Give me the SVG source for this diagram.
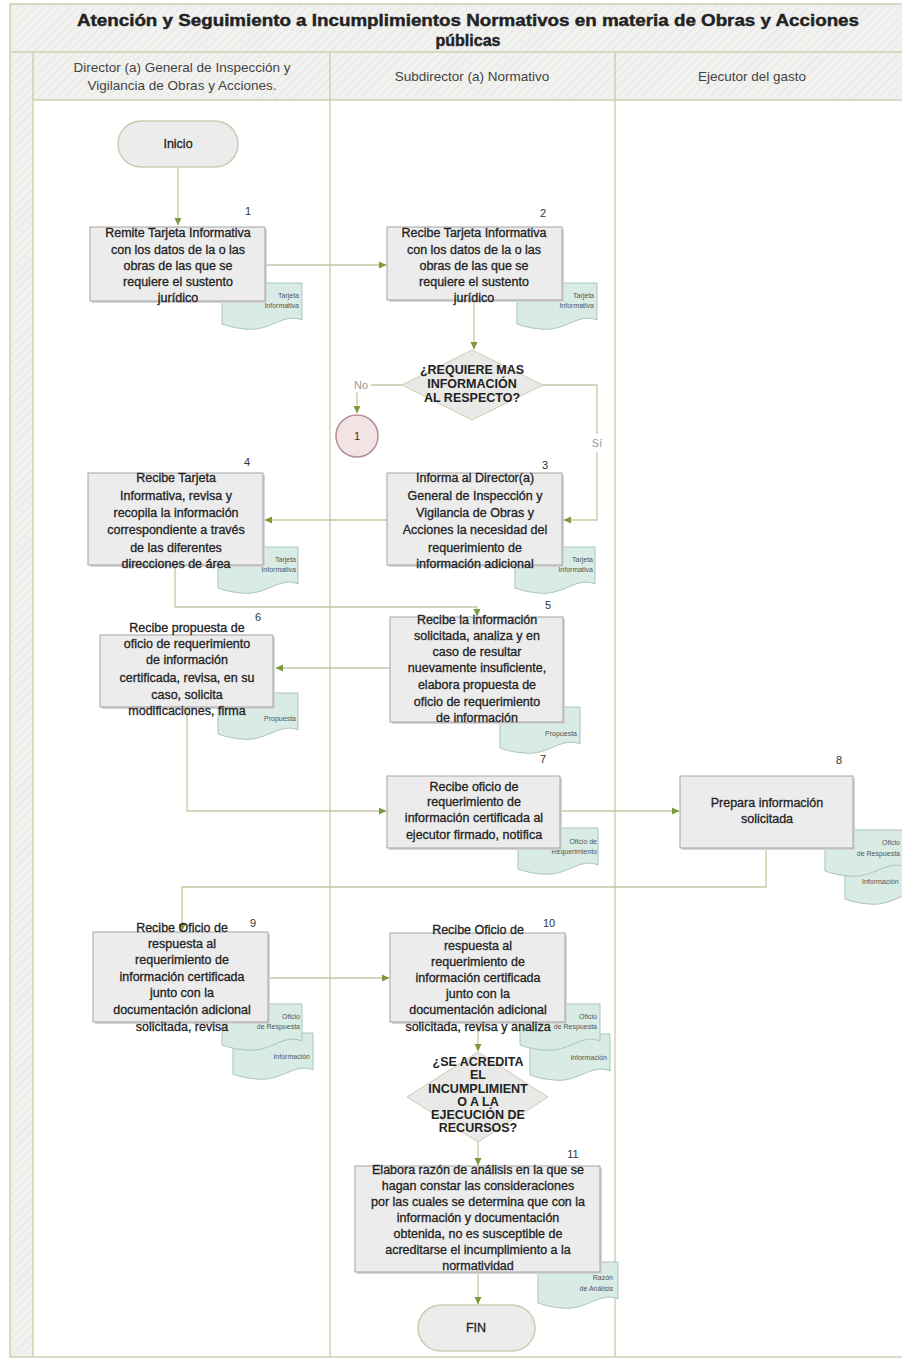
<svg xmlns="http://www.w3.org/2000/svg" width="902" height="1360" viewBox="0 0 902 1360">
<defs>
<pattern id="hatch" width="6" height="6" patternUnits="userSpaceOnUse" patternTransform="rotate(45)">
<rect width="6" height="6" fill="#f1f1ef"/>
<line x1="0" y1="0" x2="0" y2="6" stroke="#e6e6e2" stroke-width="2"/>
</pattern>
<marker id="arr" markerWidth="8" markerHeight="8" refX="7" refY="4" orient="auto" markerUnits="userSpaceOnUse">
<path d="M0,0.5 L7.5,4 L0,7.5 Z" fill="#7d9a3c"/>
</marker>
<path id="doc" d="M0,0 H80 V37 C62,29 48,49 24,46 C12,45 6,43 0,41 Z"/>
</defs>
<style>
.lane{fill:none;stroke:#d3cfb3;stroke-width:1.5}
.box{fill:#ececec;stroke:#a3a3a3;stroke-width:1}
.shadow{fill:#d6d6d6}
.doc{fill:#d9ebe5;stroke:#a9c4bc;stroke-width:1}
.term{fill:#ececec;stroke:#cdcab2;stroke-width:1.5}
.dia{fill:#e9e9e7;stroke:#cfcbb3;stroke-width:1}
.con{fill:none;stroke:#c9c6a4;stroke-width:1.3}
.t{font-family:"Liberation Sans",Arial,sans-serif;font-size:12.5px;fill:#222;stroke:#222;stroke-width:0.3;text-anchor:middle}
.tb{font-family:"Liberation Sans",Arial,sans-serif;font-size:12.5px;font-weight:bold;fill:#222;text-anchor:middle}
.num{font-family:"Liberation Sans",Arial,sans-serif;font-size:11px;fill:#333;text-anchor:middle}
.dl{font-family:"Liberation Sans",Arial,sans-serif;font-size:7px;fill:#555;text-anchor:end}
.hd{font-family:"Liberation Sans",Arial,sans-serif;font-size:13.5px;fill:#444;text-anchor:middle}
.lb{font-family:"Liberation Sans",Arial,sans-serif;font-size:11px;fill:#9a9a9a;text-anchor:middle}
</style>
<rect width="902" height="1360" fill="#ffffff"/>
<g id="pool">
<rect x="10" y="4" width="900" height="48" fill="url(#hatch)"/>
<rect x="33" y="52" width="877" height="48" fill="url(#hatch)"/>
<rect x="10" y="52" width="23" height="1305" fill="url(#hatch)"/>
<rect x="10" y="4" width="900" height="1353" class="lane"/>
<line x1="10" y1="52" x2="902" y2="52" class="lane"/>
<line x1="33" y1="100" x2="902" y2="100" class="lane"/>
<line x1="33" y1="52" x2="33" y2="1357" class="lane"/>
<line x1="330" y1="52" x2="330" y2="1357" class="lane"/>
<line x1="615" y1="52" x2="615" y2="1357" class="lane"/>
<text x="468" y="26" font-family="Liberation Sans, Arial, sans-serif" font-size="16" font-weight="bold" fill="#222" stroke="#222" stroke-width="0.4" text-anchor="middle" textLength="782" lengthAdjust="spacingAndGlyphs">Atención y Seguimiento a Incumplimientos Normativos en materia de Obras y Acciones</text>
<text x="468" y="46" font-family="Liberation Sans, Arial, sans-serif" font-size="16" font-weight="bold" fill="#222" stroke="#222" stroke-width="0.4" text-anchor="middle">públicas</text>
<text x="182" y="72" class="hd">Director (a) General de Inspección y</text>
<text x="182" y="90" class="hd">Vigilancia de Obras y Acciones.</text>
<text x="472" y="81" class="hd">Subdirector (a) Normativo</text>
<text x="752" y="81" class="hd">Ejecutor del gasto</text>
</g>
<g id="connectors">
<path class="con" d="M178,168 V225" marker-end="url(#arr)"/>
<path class="con" d="M266,265 H386" marker-end="url(#arr)"/>
<path class="con" d="M474,300 V349" marker-end="url(#arr)"/>
<path class="con" d="M402,385 H371 M357,392 V413" marker-end="url(#arr)"/>
<path class="con" d="M543,385 H597 V434 M597,452 V520 H564" marker-end="url(#arr)"/>
<path class="con" d="M387,520 H265" marker-end="url(#arr)"/>
<path class="con" d="M175,565 V607 H477 V616" marker-end="url(#arr)"/>
<path class="con" d="M390,668 H276" marker-end="url(#arr)"/>
<path class="con" d="M187,707 V811 H386" marker-end="url(#arr)"/>
<path class="con" d="M560,811 H679" marker-end="url(#arr)"/>
<path class="con" d="M766,848 V887 H182 V931" marker-end="url(#arr)"/>
<path class="con" d="M270,978 H389" marker-end="url(#arr)"/>
<path class="con" d="M478,1023 V1051" marker-end="url(#arr)"/>
<path class="con" d="M478,1142 V1165" marker-end="url(#arr)"/>
<path class="con" d="M478,1272 V1304" marker-end="url(#arr)"/>
<text x="361" y="389" class="lb">No</text>
<text x="597" y="447" class="lb">Sí</text>
</g>
<g id="inicio">
<rect x="118" y="121" width="120" height="46" rx="23" class="term"/>
<text x="178" y="148" class="t" font-size="12">Inicio</text>
</g>
<g id="n1">
<use href="#doc" x="222" y="283" class="doc"/>
<text x="299" y="298" class="dl">Tarjeta</text>
<text x="299" y="308" class="dl">Informativa</text>
<rect x="92" y="229" width="175" height="74" class="shadow"/>
<rect x="90" y="227" width="175" height="74" class="box"/>
<text x="248" y="215" class="num">1</text>
<text class="t"><tspan x="178" y="237">Remite Tarjeta Informativa</tspan><tspan x="178" y="254">con los datos de la o las</tspan><tspan x="178" y="270">obras de las que se</tspan><tspan x="178" y="286">requiere el sustento</tspan><tspan x="178" y="302">jurídico</tspan></text>
</g>
<g id="n2">
<use href="#doc" x="517" y="283" class="doc"/>
<text x="594" y="298" class="dl">Tarjeta</text>
<text x="594" y="308" class="dl">Informativa</text>
<rect x="389" y="229" width="175" height="73" class="shadow"/>
<rect x="387" y="227" width="175" height="73" class="box"/>
<text x="543" y="217" class="num">2</text>
<text class="t"><tspan x="474" y="237">Recibe Tarjeta Informativa</tspan><tspan x="474" y="254">con los datos de la o las</tspan><tspan x="474" y="270">obras de las que se</tspan><tspan x="474" y="286">requiere el sustento</tspan><tspan x="474" y="302">jurídico</tspan></text>
</g>
<g id="d1">
<polygon points="472,350 543,385 472,420 402,385" class="dia"/>
<text class="tb"><tspan x="472" y="374">¿REQUIERE MAS</tspan><tspan x="472" y="388">INFORMACIÓN</tspan><tspan x="472" y="402">AL RESPECTO?</tspan></text>
</g>
<g id="c1">
<circle cx="357" cy="436" r="21" fill="#f3e3e5" stroke="#b88d97" stroke-width="1.5"/>
<text x="357" y="440" class="num" font-size="12">1</text>
</g>
<g id="n3">
<use href="#doc" x="515" y="547" class="doc"/>
<text x="593" y="562" class="dl">Tarjeta</text>
<text x="593" y="572" class="dl">Informativa</text>
<rect x="389" y="475" width="175" height="92" class="shadow"/>
<rect x="387" y="473" width="175" height="92" class="box"/>
<text x="545" y="469" class="num">3</text>
<text class="t"><tspan x="475" y="482">Informa al Director(a)</tspan><tspan x="475" y="500">General de Inspección y</tspan><tspan x="475" y="517">Vigilancia de Obras y</tspan><tspan x="475" y="534">Acciones la necesidad del</tspan><tspan x="475" y="552">requerimiento de</tspan><tspan x="475" y="568">información adicional</tspan></text>
</g>
<g id="n4">
<use href="#doc" x="218" y="547" class="doc"/>
<text x="296" y="562" class="dl">Tarjeta</text>
<text x="296" y="572" class="dl">Informativa</text>
<rect x="90" y="475" width="175" height="92" class="shadow"/>
<rect x="88" y="473" width="175" height="92" class="box"/>
<text x="247" y="466" class="num">4</text>
<text class="t"><tspan x="176" y="482">Recibe Tarjeta</tspan><tspan x="176" y="500">Informativa, revisa y</tspan><tspan x="176" y="517">recopila la información</tspan><tspan x="176" y="534">correspondiente a través</tspan><tspan x="176" y="552">de las diferentes</tspan><tspan x="176" y="568">direcciones de área</tspan></text>
</g>
<g id="n5">
<use href="#doc" x="500" y="707" class="doc"/>
<text x="577" y="736" class="dl">Propuesta</text>
<rect x="392" y="619" width="173" height="105" class="shadow"/>
<rect x="390" y="617" width="173" height="105" class="box"/>
<text x="548" y="609" class="num">5</text>
<text class="t"><tspan x="477" y="624">Recibe la información</tspan><tspan x="477" y="640">solicitada, analiza y en</tspan><tspan x="477" y="656">caso de resultar</tspan><tspan x="477" y="672">nuevamente insuficiente,</tspan><tspan x="477" y="689">elabora propuesta de</tspan><tspan x="477" y="706">oficio de requerimiento</tspan><tspan x="477" y="722">de información</tspan></text>
</g>
<g id="n6">
<use href="#doc" x="218" y="693" class="doc"/>
<text x="296" y="721" class="dl">Propuesta</text>
<rect x="102" y="637" width="173" height="72" class="shadow"/>
<rect x="100" y="635" width="173" height="72" class="box"/>
<text x="258" y="621" class="num">6</text>
<text class="t"><tspan x="187" y="632">Recibe propuesta de</tspan><tspan x="187" y="648">oficio de requerimiento</tspan><tspan x="187" y="664">de información</tspan><tspan x="187" y="682">certificada, revisa, en su</tspan><tspan x="187" y="699">caso, solicita</tspan><tspan x="187" y="715">modificaciones, firma</tspan></text>
</g>
<g id="n7">
<use href="#doc" x="518" y="828" class="doc"/>
<text x="597" y="844" class="dl">Oficio de</text>
<text x="597" y="854" class="dl">Requerimiento</text>
<rect x="389" y="778" width="173" height="72" class="shadow"/>
<rect x="387" y="776" width="173" height="72" class="box"/>
<text x="543" y="763" class="num">7</text>
<text class="t"><tspan x="474" y="791">Recibe oficio de</tspan><tspan x="474" y="806">requerimiento de</tspan><tspan x="474" y="822">información certificada al</tspan><tspan x="474" y="839">ejecutor firmado, notifica</tspan></text>
</g>
<g id="n8">
<use href="#doc" x="845" y="858" class="doc"/>
<text x="862" y="884" font-family="Liberation Sans, Arial, sans-serif" font-size="7" fill="#555">Información</text>
<use href="#doc" x="825" y="830" class="doc"/>
<text x="900" y="845" class="dl">Oficio</text>
<text x="900" y="856" class="dl">de Respuesta</text>
<rect x="682" y="778" width="173" height="72" class="shadow"/>
<rect x="680" y="776" width="173" height="72" class="box"/>
<text x="839" y="764" class="num">8</text>
<text class="t"><tspan x="767" y="807">Prepara información</tspan><tspan x="767" y="823">solicitada</tspan></text>
</g>
<g id="n9">
<use href="#doc" x="233" y="1033" class="doc"/>
<text x="310" y="1059" class="dl">Información</text>
<use href="#doc" x="222" y="1004" class="doc"/>
<text x="300" y="1019" class="dl">Oficio</text>
<text x="300" y="1029" class="dl">de Respuesta</text>
<rect x="95" y="934" width="175" height="90" class="shadow"/>
<rect x="93" y="932" width="175" height="90" class="box"/>
<text x="253" y="927" class="num">9</text>
<text class="t"><tspan x="182" y="932">Recibe Oficio de</tspan><tspan x="182" y="948">respuesta al</tspan><tspan x="182" y="964">requerimiento de</tspan><tspan x="182" y="981">información certificada</tspan><tspan x="182" y="997">junto con la</tspan><tspan x="182" y="1014">documentación adicional</tspan><tspan x="182" y="1031">solicitada, revisa</tspan></text>
</g>
<g id="n10">
<use href="#doc" x="530" y="1034" class="doc"/>
<text x="607" y="1060" class="dl">Información</text>
<use href="#doc" x="520" y="1004" class="doc"/>
<text x="597" y="1019" class="dl">Oficio</text>
<text x="597" y="1029" class="dl">de Respuesta</text>
<rect x="392" y="935" width="175" height="89" class="shadow"/>
<rect x="390" y="933" width="175" height="89" class="box"/>
<text x="549" y="927" class="num">10</text>
<text class="t"><tspan x="478" y="934">Recibe Oficio de</tspan><tspan x="478" y="950">respuesta al</tspan><tspan x="478" y="966">requerimiento de</tspan><tspan x="478" y="982">información certificada</tspan><tspan x="478" y="998">junto con la</tspan><tspan x="478" y="1014">documentación adicional</tspan><tspan x="478" y="1031">solicitada, revisa y analiza</tspan></text>
</g>
<g id="d2">
<polygon points="478,1052 548,1097 478,1142 407,1097" class="dia"/>
<text class="tb" font-size="12"><tspan x="478" y="1066">¿SE ACREDITA</tspan><tspan x="478" y="1079">EL</tspan><tspan x="478" y="1093">INCUMPLIMIENT</tspan><tspan x="478" y="1106">O A LA</tspan><tspan x="478" y="1119">EJECUCIÓN DE</tspan><tspan x="478" y="1132">RECURSOS?</tspan></text>
</g>
<g id="n11">
<use href="#doc" x="538" y="1262" class="doc"/>
<text x="613" y="1280" class="dl">Razón</text>
<text x="613" y="1291" class="dl">de Análisis</text>
<rect x="357" y="1168" width="245" height="106" class="shadow"/>
<rect x="355" y="1166" width="245" height="106" class="box"/>
<text x="573" y="1158" class="num">11</text>
<text class="t" font-size="12"><tspan x="478" y="1174">Elabora razón de análisis en la que se</tspan><tspan x="478" y="1190">hagan constar las consideraciones</tspan><tspan x="478" y="1206">por las cuales se determina que con la</tspan><tspan x="478" y="1222">información y documentación</tspan><tspan x="478" y="1238">obtenida, no es susceptible de</tspan><tspan x="478" y="1254">acreditarse el incumplimiento a la</tspan><tspan x="478" y="1270">normatividad</tspan></text>
</g>
<g id="fin">
<rect x="418" y="1305" width="117" height="46" rx="23" class="term"/>
<text x="476" y="1332" class="t" font-size="12">FIN</text>
</g>
</svg>
